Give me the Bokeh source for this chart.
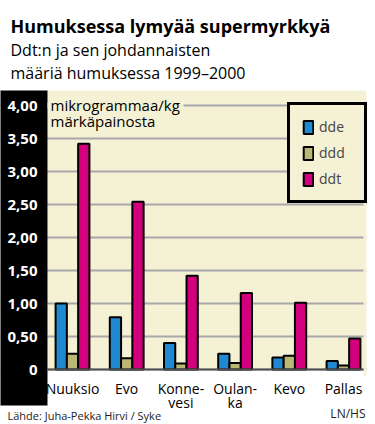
from bokeh.plotting import figure
from bokeh.models import (Range1d, FixedTicker, Label, Legend, LegendItem, LinearAxis, Grid,
                          ColumnDataSource)
from bokeh.transform import dodge
from bokeh.embed import file_html
from bokeh.resources import INLINE

# ---- data ----
places = ["Nuuksio", "Evo", "Konne-\nvesi", "Oulan-\nka", "Kevo", "Pallas"]
dde = [1.00, 0.79, 0.40, 0.24, 0.18, 0.13]
ddd = [0.24, 0.17, 0.09, 0.10, 0.21, 0.06]
ddt = [3.42, 2.54, 1.42, 1.16, 1.01, 0.47]
series_names = ["dde", "ddd", "ddt"]
y_ticks = [0, 0.5, 1.0, 1.5, 2.0, 2.5, 3.0, 3.5, 4.0]
y_tick_labels = ["0", "0,50", "1,00", "1,50", "2,00", "2,50", "3,00", "3,50", "4,00"]

title = "Humuksessa lymyää supermyrkkyä"
subtitle1 = "Ddt:n ja sen johdannaisten"
subtitle2 = "määriä humuksessa 1999–2000"
unit1 = "mikrogrammaa/kg"
unit2 = "märkäpainosta"
source_txt = "Lähde: Juha-Pekka Hirvi / Syke"
credit_txt = "LN/HS"

colors = ["#1f8ad2", "#bab874", "#d2007c"]
BG = "#f4f1d4"
FONT = "Open Sans"

# ---- layout constants (whole canvas is the frame) ----
X0, X1 = -1.3284, 5.5904          # canvas x 0..375
Y0, Y1 = -0.8333, 5.5909          # canvas y 424..0
PLOT_L, PLOT_R = -0.4613, 5.424   # yellow panel edges
GRID_R = 5.369                    # grid lines end
PLOT_T = 4.2273                   # yellow panel top
BAND_B = -0.5455                  # black band bottom
W = 0.208

idx = list(range(len(places)))
src = ColumnDataSource(dict(x=idx, dde=dde, ddd=ddd, ddt=ddt))

p = figure(width=375, height=424, output_backend="svg", toolbar_location=None,
           x_range=Range1d(X0, X1), y_range=Range1d(Y0, Y1),
           x_axis_location=None, y_axis_location=None,
           min_border=0, min_border_left=0, min_border_right=0,
           min_border_top=0, min_border_bottom=0)
p.background_fill_color = "white"
p.border_fill_color = "white"
p.outline_line_color = None
for g in p.grid:
    g.visible = False

# panels
p.quad(left=PLOT_L, right=PLOT_R, bottom=0, top=PLOT_T, fill_color=BG, line_color=None,
       level="image")
yticker = FixedTicker(ticks=y_ticks)
p.add_layout(Grid(dimension=1, ticker=yticker, grid_line_color="#a8a8a8", grid_line_width=2))
p.quad(left=X0 - 1, right=PLOT_L, bottom=BAND_B, top=PLOT_T, fill_color="black",
       line_color=None)
p.quad(left=GRID_R, right=PLOT_R, bottom=-0.1, top=PLOT_T, fill_color=BG, line_color=None)
p.quad(left=PLOT_R, right=X1 + 1, bottom=-0.1, top=PLOT_T, fill_color="white", line_color=None)
# cover gridline behind the unit note
p.quad(left=PLOT_L, right=2.048, bottom=3.96, top=4.04, fill_color=BG, line_color=None)

renderers = []
for k, (name, col) in enumerate(zip(series_names, colors)):
    r = p.vbar(x=dodge("x", (k - 1) * W), top=name, width=W, source=src,
               fill_color=col, line_color="black", line_width=2)
    renderers.append(r)

# axes
yaxis = LinearAxis(fixed_location=PLOT_L, ticker=yticker)
yaxis.major_label_overrides = {t: l for t, l in zip(y_ticks, y_tick_labels)}
yaxis.major_label_text_color = "white"
yaxis.major_label_text_font = FONT
yaxis.major_label_text_font_style = "bold"
yaxis.major_label_text_font_size = "15px"
yaxis.major_tick_line_color = None
yaxis.minor_tick_line_color = None
yaxis.axis_line_color = None
yaxis.major_label_standoff = 4
p.add_layout(yaxis, "left")

xaxis = LinearAxis(fixed_location=0, ticker=FixedTicker(ticks=idx), bounds=(PLOT_L, GRID_R))
xaxis.major_label_overrides = {i: n for i, n in zip(idx, places)}
xaxis.major_label_text_font = FONT
xaxis.major_label_text_font_size = "14px"
xaxis.major_label_text_line_height = 0.78
xaxis.major_label_text_color = "black"
xaxis.major_tick_line_color = None
xaxis.minor_tick_line_color = None
xaxis.axis_line_color = "#505050"
xaxis.axis_line_width = 2
xaxis.major_label_standoff = 3
p.add_layout(xaxis, "below")


def lab(x, y, text, size, style="normal", align="left", color="black"):
    p.add_layout(Label(x=x, y=y, x_units="canvas", y_units="canvas", text=text,
                       text_font=FONT, text_font_size=size, text_font_style=style,
                       text_align=align, text_baseline="alphabetic", text_color=color))


lab(10, 25, title, "18px", "bold")
lab(10, 49, subtitle1, "16px")
lab(10, 72, subtitle2, "16px")
lab(50, 104, unit1, "15px")
lab(50, 120, unit2, "15px")
lab(7, 415, source_txt, "11px", color="#222222")
lab(365, 413, credit_txt, "12px", align="right", color="#222222")

legend = Legend(items=[LegendItem(label=n, renderers=[r]) for n, r in zip(series_names, renderers)],
                location=(287, 221), padding=12, spacing=7, glyph_width=12, glyph_height=16,
                label_width=33, label_height=18, label_standoff=5,
                label_text_font=FONT, label_text_font_size="14px",
                border_line_color="black", border_line_width=3, border_line_alpha=1,
                background_fill_color=BG, background_fill_alpha=1, margin=0)
p.add_layout(legend)

open("out.html", "w").write(file_html(p, INLINE))
